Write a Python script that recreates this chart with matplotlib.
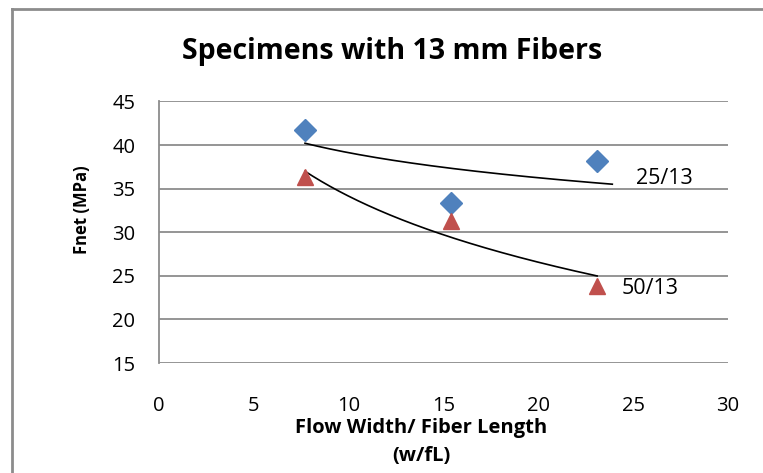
import numpy as np
import matplotlib
matplotlib.use("Agg")
import matplotlib.pyplot as plt
from matplotlib.lines import Line2D

# Data
x_vals = [7.7, 15.4, 23.1]
y_25_13 = [41.7, 33.3, 38.2]
y_50_13 = [36.3, 31.3, 23.8]
series_labels = ["25/13", "50/13"]
x_ticks = [0, 5, 10, 15, 20, 25, 30]
y_ticks = [15, 20, 25, 30, 35, 40, 45]

plt.rcParams['font.family'] = ['Open Sans', 'DejaVu Sans']

fig = plt.figure(figsize=(7.63, 4.73), dpi=100)
# outer chart frame (only left/top visible in the picture)
fx, fy = 11.5/763, 1 - 9.5/473
fig.lines.append(Line2D([fx, fx], [0, fy], transform=fig.transFigure,
                        color='#8c8c8c', linewidth=2.0))
fig.lines.append(Line2D([fx, 1], [fy, fy], transform=fig.transFigure,
                        color='#8c8c8c', linewidth=2.0))

ax = fig.add_axes([159/763, 1 - 363/473, (728 - 159)/763, (363 - 101.5)/473])
ax.set_xlim(0, 30)
ax.set_ylim(15, 45)
ax.set_xticks(x_ticks)
ax.set_yticks(y_ticks)
ax.grid(axis='y', color='#8c8c8c', linewidth=1.3)
ax.set_axisbelow(True)
for s in ['top', 'right', 'bottom']:
    ax.spines[s].set_visible(False)
ax.spines['left'].set_color('#8c8c8c')
ax.spines['left'].set_linewidth(1.3)
ax.tick_params(axis='both', length=0, labelsize=14.5, colors='#000000')
ax.tick_params(axis='x', pad=24)
ax.tick_params(axis='y', pad=17)

xv = np.array(x_vals)
for y, mk, col, ms, ext in [(y_25_13, 'D', '#4F81BD', 11, 0.8), (y_50_13, '^', '#C0504D', 12, 0.0)]:
    yv = np.array(y)
    b, a = np.polyfit(np.log(xv), yv, 1)
    xx = np.linspace(xv.min(), xv.max() + ext, 200)
    ax.plot(xx, a + b * np.log(xx), color='black', linewidth=1.2, zorder=2)
    ax.plot(xv, yv, linestyle='none', marker=mk, color=col, markersize=ms, zorder=3)

ax.text(25.15, 36.2, series_labels[0], fontsize=15.5, va='center', ha='left')
ax.text(24.4, 23.5, series_labels[1], fontsize=15.5, va='center', ha='left')

fig.text(392/763, 1 - 52/473, "Specimens with 13 mm Fibers", fontsize=20.5,
         fontweight='bold', ha='center', va='center')
fig.text(82/763, 1 - 210/473, "Fnet (MPa)", fontsize=12, fontweight='bold',
         rotation=90, ha='center', va='center')
fig.text(421/763, 1 - 428/473, "Flow Width/ Fiber Length", fontsize=14.5,
         fontweight='bold', ha='center', va='center')
fig.text(421/763, 1 - 456/473, "(w/fL)", fontsize=14.5,
         fontweight='bold', ha='center', va='center')

fig.savefig("out.png", dpi=100)
